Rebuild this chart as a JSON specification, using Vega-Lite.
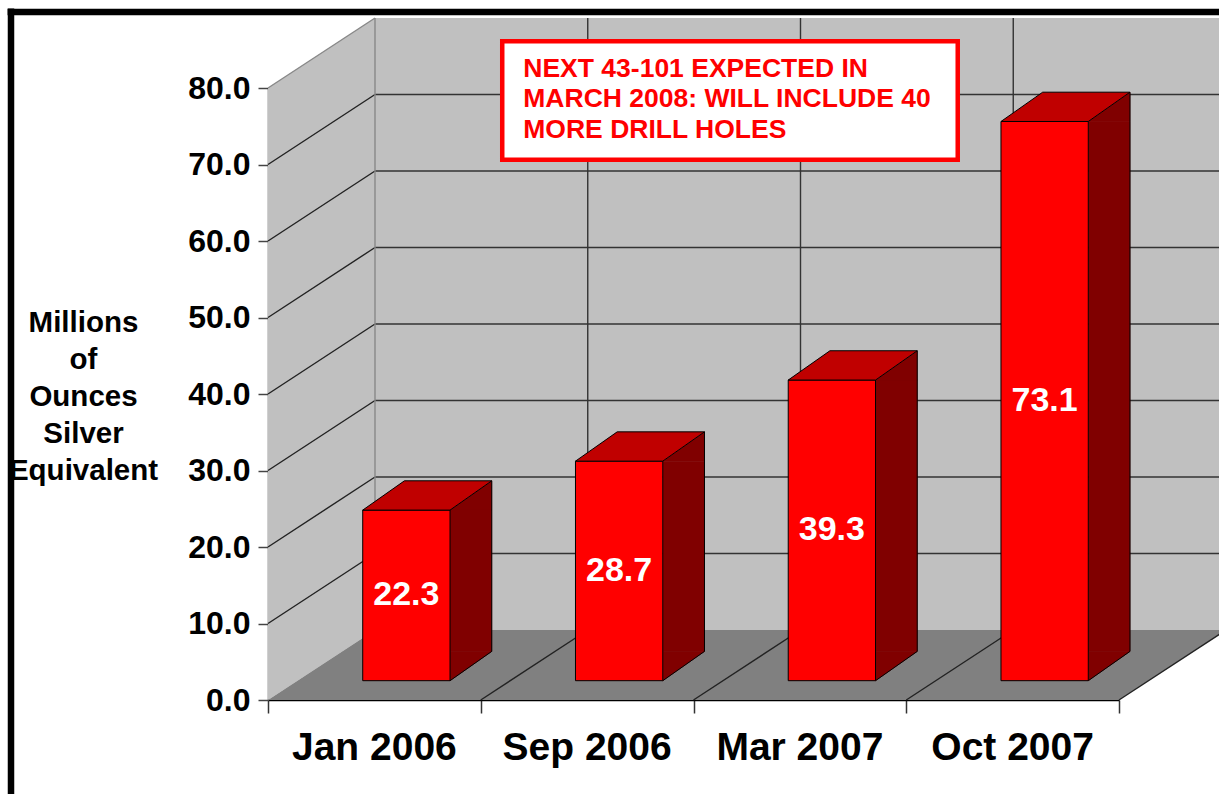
{
  "$schema": "https://vega.github.io/schema/vega-lite/v6.json",
  "width": 851,
  "height": 612,
  "autosize": {"type": "none"},
  "padding": {"left": 268, "top": 88, "right": 100, "bottom": 94},
  "background": "#ffffff",
  "config": {"view": {"stroke": null}, "font": "Liberation Sans"},
  "datasets": {
    "bars": [
      {"cat": "Jan 2006", "value": 22.3},
      {"cat": "Sep 2006", "value": 28.7},
      {"cat": "Mar 2007", "value": 39.3},
      {"cat": "Oct 2007", "value": 73.1}
    ],
    "yt": [{"v": 0}, {"v": 10}, {"v": 20}, {"v": 30}, {"v": 40}, {"v": 50}, {"v": 60}, {"v": 70}, {"v": 80}],
    "xt": [{"k": 0}, {"k": 1}, {"k": 2}, {"k": 3}, {"k": 4}],
    "one": [{"id": 1}]
  },
  "layer": [
    {
      "layer": [
        {
          "data": {"name": "one"},
          "mark": {"type": "rect", "fill": "#C0C0C0", "xOffset": 107, "x2Offset": 107, "yOffset": -70, "y2Offset": -70},
          "encoding": {
            "x": {
              "datum": 0,
              "type": "quantitative",
              "scale": {"domain": [0, 4], "nice": false, "zero": false},
              "axis": {
                "orient": "bottom",
                "values": [0, 1, 2, 3, 4],
                "labels": false,
                "tickSize": 13,
                "tickColor": "#333333",
                "tickWidth": 1.5,
                "domainColor": "#000000",
                "domainWidth": 1.5,
                "grid": false,
                "title": null
              }
            },
            "x2": {"datum": 4},
            "y": {
              "datum": 0,
              "type": "quantitative",
              "scale": {"domain": [0, 80], "nice": false, "zero": false},
              "axis": {
                "orient": "left",
                "values": [0, 10, 20, 30, 40, 50, 60, 70, 80],
                "format": ".1f",
                "labelFontSize": 32,
                "labelFontWeight": "bold",
                "labelColor": "#000000",
                "labelPadding": 8,
                "tickSize": 10,
                "tickColor": "#444444",
                "tickWidth": 1.5,
                "domainColor": "#444444",
                "domainWidth": 1.5,
                "grid": false,
                "title": ["Millions", "of", "Ounces", "Silver", "Equivalent"],
                "titleAngle": 0,
                "titleX": -185,
                "titleY": 234,
                "titleAlign": "center",
                "titleBaseline": "middle",
                "titleFontSize": 29.5,
                "titleFontWeight": "bold",
                "titleLineHeight": 37,
                "titleColor": "#000000",
                "titlePadding": 0
              }
            },
            "y2": {"datum": 80}
          }
        },
        {
          "data": {"name": "yt"},
          "transform": [{"filter": "datum.v > 0 && datum.v < 80"}],
          "mark": {"type": "rule", "stroke": "#333333", "strokeWidth": 1.4, "xOffset": 107, "x2Offset": 107, "yOffset": -70},
          "encoding": {
            "x": {"datum": 0, "type": "quantitative"},
            "x2": {"datum": 4},
            "y": {"field": "v", "type": "quantitative"}
          }
        },
        {
          "data": {"name": "xt"},
          "transform": [{"filter": "datum.k > 0 && datum.k < 4"}],
          "mark": {"type": "rule", "stroke": "#333333", "strokeWidth": 1.4, "xOffset": 107, "yOffset": -70, "y2Offset": -70},
          "encoding": {
            "x": {"field": "k", "type": "quantitative"},
            "y": {"datum": 0, "type": "quantitative"},
            "y2": {"datum": 80}
          }
        },
        {
          "data": {"name": "one"},
          "mark": {"type": "point", "shape": "M0,0L0,-612L107,-682L107,-70Z", "size": 4, "filled": true, "fill": "#C0C0C0", "opacity": 1, "strokeWidth": 0},
          "encoding": {
            "x": {"datum": 0, "type": "quantitative"},
            "y": {"datum": 0, "type": "quantitative"}
          }
        },
        {
          "data": {"name": "yt"},
          "transform": [{"filter": "datum.v > 0"}],
          "mark": {"type": "point", "shape": "M0,0L107,-70", "size": 4, "filled": false, "opacity": 1, "strokeWidth": 1.4},
          "encoding": {
            "x": {"datum": 0, "type": "quantitative"},
            "y": {"field": "v", "type": "quantitative"},
            "stroke": {"condition": {"test": "datum.v == 80", "value": "#888888"}, "value": "#222222"}
          }
        },
        {
          "data": {"name": "one"},
          "mark": {"type": "rule", "stroke": "#888888", "strokeWidth": 1.4, "xOffset": 107, "yOffset": -70, "y2Offset": -70},
          "encoding": {
            "x": {"datum": 0, "type": "quantitative"},
            "y": {"datum": 0, "type": "quantitative"},
            "y2": {"datum": 80}
          }
        },
        {
          "data": {"name": "one"},
          "mark": {"type": "point", "shape": "M0,0L107,-70L958,-70L851,0Z", "size": 4, "filled": true, "fill": "#808080", "opacity": 1, "strokeWidth": 0},
          "encoding": {
            "x": {"datum": 0, "type": "quantitative"},
            "y": {"datum": 0, "type": "quantitative"}
          }
        },
        {
          "data": {"name": "xt"},
          "transform": [{"filter": "datum.k > 0"}],
          "mark": {"type": "point", "shape": "M0,0L107,-70", "size": 4, "filled": false, "opacity": 1, "stroke": "#222222", "strokeWidth": 1.4},
          "encoding": {
            "x": {"field": "k", "type": "quantitative"},
            "y": {"datum": 0, "type": "quantitative"}
          }
        },
        {
          "data": {"name": "one"},
          "mark": {"type": "rect", "fill": "#ffffff", "stroke": "#FF0000", "strokeWidth": 4.5},
          "encoding": {
            "x": {"datum": 1.101, "type": "quantitative"},
            "x2": {"datum": 3.242},
            "y": {"datum": 86.11, "type": "quantitative"},
            "y2": {"datum": 70.62}
          }
        },
        {
          "data": {"name": "one"},
          "mark": {
            "type": "text",
            "text": ["NEXT 43-101 EXPECTED IN", "MARCH 2008: WILL INCLUDE 40", "MORE DRILL HOLES"],
            "align": "left",
            "baseline": "alphabetic",
            "lineHeight": 30.5,
            "fontSize": 26.5,
            "fontWeight": "bold",
            "fill": "#FF0000"
          },
          "encoding": {
            "x": {"datum": 1.2, "type": "quantitative"},
            "y": {"datum": 81.44, "type": "quantitative"}
          }
        },
        {
          "data": {"name": "one"},
          "mark": {"type": "rule", "stroke": "#000000", "strokeWidth": 6.5},
          "encoding": {
            "x": {"datum": -1.208, "type": "quantitative"},
            "y": {"datum": 90.4, "type": "quantitative"},
            "y2": {"datum": -14}
          }
        },
        {
          "data": {"name": "one"},
          "mark": {"type": "rule", "stroke": "#000000", "strokeWidth": 6.5},
          "encoding": {
            "x": {"datum": -1.224, "type": "quantitative"},
            "x2": {"datum": 4.7},
            "y": {"datum": 89.935, "type": "quantitative"}
          }
        }
      ]
    },
    {
      "data": {"name": "bars"},
      "layer": [
        {
          "mark": {"type": "bar", "width": 41.7, "xOffset": 96.5, "yOffset": -19.3, "y2Offset": -48.6, "fill": "#800000", "stroke": "#800000", "strokeWidth": 0.6},
          "encoding": {
            "x": {
              "field": "cat",
              "type": "nominal",
              "sort": null,
              "scale": {"type": "band", "paddingInner": 0, "paddingOuter": 0},
              "axis": {
                "orient": "bottom",
                "ticks": false,
                "domain": false,
                "grid": false,
                "labelFontSize": 39,
                "labelFontWeight": "bold",
                "labelColor": "#000000",
                "labelPadding": 28,
                "labelAngle": 0,
                "labelLimit": 400,
                "title": null
              }
            },
            "y": {"field": "value", "type": "quantitative", "scale": {"domain": [0, 80], "nice": false, "zero": false}, "axis": null},
            "y2": {"datum": 0}
          }
        },
        {
          "mark": {"type": "point", "shape": "M43.65,0L85.35,-29.3L85.35,0Z", "size": 4, "filled": true, "fill": "#800000", "stroke": "#800000", "strokeWidth": 0.6, "opacity": 1, "xOffset": 32, "yOffset": -19.3},
          "encoding": {
            "x": {"field": "cat", "type": "nominal", "sort": null, "scale": {"type": "band", "paddingInner": 0, "paddingOuter": 0}},
            "y": {"field": "value", "type": "quantitative", "axis": null}
          }
        },
        {
          "mark": {"type": "point", "shape": "M43.65,0L43.65,-29.3L85.35,-29.3Z", "size": 4, "filled": true, "fill": "#800000", "stroke": "#800000", "strokeWidth": 0.6, "opacity": 1, "xOffset": 32, "yOffset": -19.3},
          "encoding": {
            "x": {"field": "cat", "type": "nominal", "sort": null, "scale": {"type": "band", "paddingInner": 0, "paddingOuter": 0}},
            "y": {"datum": 0, "type": "quantitative", "axis": null}
          }
        },
        {
          "mark": {"type": "point", "shape": "M43.65,0L85.35,-29.3", "size": 4, "filled": false, "stroke": "#000000", "strokeWidth": 1, "opacity": 1, "xOffset": 32, "yOffset": -19.3},
          "encoding": {
            "x": {"field": "cat", "type": "nominal", "sort": null, "scale": {"type": "band", "paddingInner": 0, "paddingOuter": 0}},
            "y": {"datum": 0, "type": "quantitative", "axis": null}
          }
        },
        {
          "mark": {"type": "rule", "stroke": "#000000", "strokeWidth": 1, "xOffset": 117.35, "yOffset": -48.6, "y2Offset": -48.6},
          "encoding": {
            "x": {"field": "cat", "type": "nominal", "sort": null, "scale": {"type": "band", "paddingInner": 0, "paddingOuter": 0}},
            "y": {"field": "value", "type": "quantitative", "axis": null},
            "y2": {"datum": 0}
          }
        },
        {
          "mark": {"type": "bar", "width": 87.3, "xOffset": 32, "yOffset": -19.3, "y2Offset": -19.3, "fill": "#FF0000", "stroke": "#000000", "strokeWidth": 1},
          "encoding": {
            "x": {"field": "cat", "type": "nominal", "sort": null, "scale": {"type": "band", "paddingInner": 0, "paddingOuter": 0}},
            "y": {"field": "value", "type": "quantitative", "axis": null},
            "y2": {"datum": 0}
          }
        },
        {
          "mark": {"type": "point", "shape": "M-43.65,0L43.65,0L85.35,-29.3L-1.95,-29.3Z", "size": 4, "filled": true, "fill": "#C00000", "stroke": "#000000", "strokeWidth": 1, "opacity": 1, "xOffset": 32, "yOffset": -19.3},
          "encoding": {
            "x": {"field": "cat", "type": "nominal", "sort": null, "scale": {"type": "band", "paddingInner": 0, "paddingOuter": 0}},
            "y": {"field": "value", "type": "quantitative", "axis": null}
          }
        }
      ]
    },
    {
      "data": {"name": "bars"},
      "mark": {"type": "text", "xOffset": 32, "yOffset": -19.3, "fontSize": 34, "fontWeight": "bold", "fill": "#ffffff", "align": "center", "baseline": "middle"},
      "encoding": {
        "x": {"field": "cat", "type": "nominal", "sort": null, "scale": {"type": "band", "paddingInner": 0, "paddingOuter": 0}, "axis": null},
        "y": {"field": "value", "type": "quantitative", "scale": {"domain": [0, 160], "nice": false, "zero": false}, "axis": null},
        "text": {"field": "value", "type": "quantitative", "format": ".1f"}
      }
    }
  ],
  "resolve": {"scale": {"x": "independent", "y": "independent"}}
}
